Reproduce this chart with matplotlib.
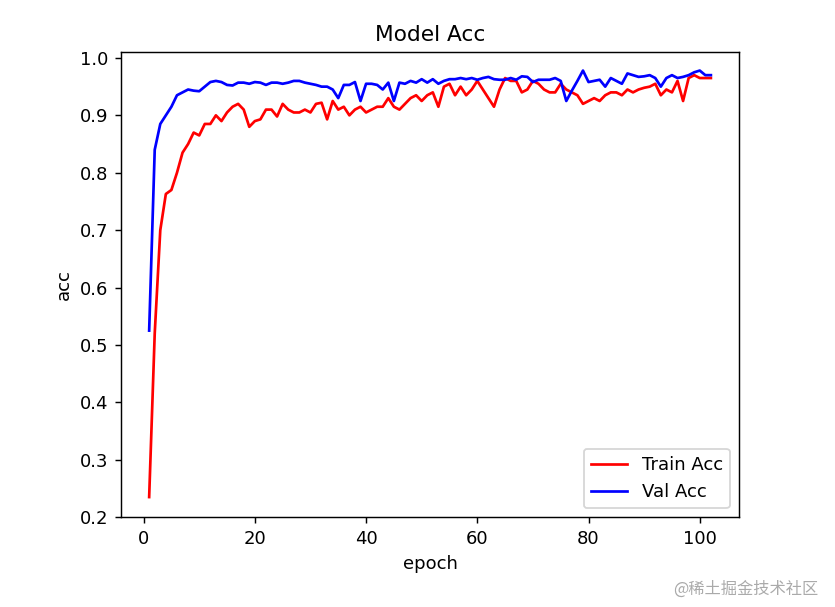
import matplotlib
matplotlib.use("Agg")
import matplotlib.pyplot as plt

epochs = list(range(1, 103))
train_acc = [0.235,0.52,0.70,0.763,0.77,0.80,0.835,0.85,0.87,0.865,0.885,0.885,0.90,0.89,0.905,0.915,0.92,0.91,0.88,0.89,
0.893,0.91,0.91,0.898,0.92,0.91,0.905,0.905,0.91,0.905,0.92,0.922,0.893,0.925,0.91,0.915,0.90,0.91,0.915,0.905,
0.91,0.915,0.915,0.93,0.915,0.91,0.92,0.93,0.935,0.925,0.935,0.94,0.915,0.95,0.955,0.935,0.95,0.935,0.945,0.96,
0.945,0.93,0.915,0.945,0.965,0.96,0.96,0.94,0.945,0.96,0.955,0.945,0.94,0.94,0.955,0.945,0.94,0.935,0.92,0.925,
0.93,0.925,0.935,0.94,0.94,0.935,0.945,0.94,0.945,0.948,0.95,0.955,0.935,0.945,0.94,0.96,0.925,0.965,0.97,0.965,
0.965,0.965]
val_acc = [0.525,0.84,0.885,0.90,0.915,0.935,0.94,0.945,0.943,0.942,0.95,0.958,0.96,0.958,0.953,0.952,0.957,0.957,0.955,0.958,
0.957,0.953,0.957,0.957,0.955,0.957,0.96,0.96,0.957,0.955,0.953,0.95,0.95,0.945,0.93,0.953,0.953,0.958,0.925,0.955,
0.955,0.953,0.945,0.957,0.925,0.957,0.955,0.96,0.957,0.963,0.957,0.963,0.955,0.96,0.963,0.963,0.965,0.963,0.965,0.962,
0.965,0.967,0.963,0.962,0.962,0.965,0.962,0.968,0.967,0.958,0.962,0.962,0.962,0.965,0.96,0.925,0.943,0.96,0.978,0.958,
0.96,0.962,0.95,0.965,0.96,0.955,0.973,0.97,0.967,0.968,0.97,0.965,0.95,0.965,0.97,0.965,0.967,0.97,0.975,0.978,
0.97,0.97]

fig = plt.figure(figsize=(835/130, 607/130), dpi=130)
ax = fig.add_axes([0.145, 0.148, 0.74, 0.766])
ax.plot(epochs, train_acc, color='red', label='Train Acc')
ax.plot(epochs, val_acc, color='blue', label='Val Acc')
ax.set_title('Model Acc')
ax.set_xlabel('epoch')
ax.set_ylabel('acc')
ax.set_ylim(0.2, 1.01)
ax.legend(loc='lower right')
fig.text(0.98, 0.015, '@稀土掘金技术社区', ha='right', va='bottom', color='#aaaaaa', fontsize=9,
         family=['Noto Sans CJK SC', 'DejaVu Sans'])
fig.savefig('out.png', dpi=130)
